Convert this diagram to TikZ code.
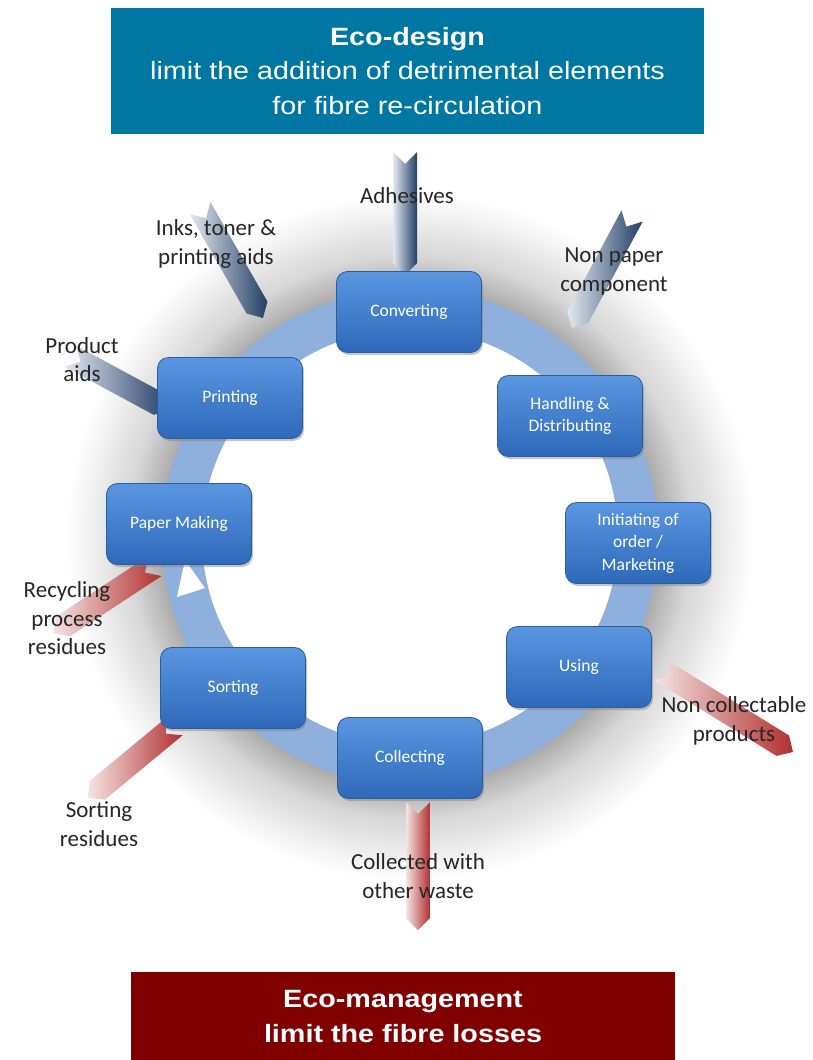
\documentclass[tikz,border=0pt]{standalone}
\usepackage{fontspec}
\setmainfont{Carlito}
\newfontfamily\titlefont[FakeStretch=1.15]{Liberation Sans}
\usetikzlibrary{shadows}
\definecolor{ecoblue}{HTML}{0077A3}
\definecolor{ecored}{HTML}{800000}
\definecolor{ringblue}{HTML}{8FB0DC}
\definecolor{boxtop}{HTML}{5A96E0}
\definecolor{boxbot}{HTML}{2E69B9}
\definecolor{boxedge}{HTML}{2A5C9E}
\definecolor{labelgray}{HTML}{262626}
\definecolor{navy}{HTML}{233E66}
\definecolor{navylight}{HTML}{E4E9F0}
\definecolor{darkred}{HTML}{B0302F}
\definecolor{pinklight}{HTML}{F6E4E4}
\pgfdeclareradialshading{halo}{\pgfpointorigin}{color(0bp)=(white); color(15.1bp)=(white); color(15.5bp)=(black!36); color(18bp)=(black!16); color(22bp)=(white); color(50bp)=(white)}
\newcommand{\chev}[7]{%
  \pgfmathsetmacro{\cdx}{#4-#2}\pgfmathsetmacro{\cdy}{#5-#3}%
  \pgfmathsetmacro{\cang}{atan2(\cdy,\cdx)}\pgfmathsetmacro{\clen}{veclen(\cdx,\cdy)}%
  \coordinate (#1-tail) at (#2,#3);
  \coordinate (#1-tip) at (#4,#5);
  \begin{scope}[shift={(#1-tail)},rotate=\cang]
    \shade[left color=#6,right color=#7] (0,-12) -- (\clen-12,-12) -- (\clen,0) -- (\clen-12,12) -- (0,12) -- (12,0) -- cycle;
  \end{scope}}
\tikzset{
  stage/.style={rectangle, rounded corners=11pt, minimum width=145pt, minimum height=81pt,
    top color=boxtop, bottom color=boxbot, draw=boxedge, line width=0.8pt, text=white,
    font=\fontsize{17.5}{22.5}\selectfont, align=center, inner sep=2pt,
    drop shadow={shadow xshift=1.5pt, shadow yshift=-2.5pt, opacity=0.45}},
  lbl/.style={font=\fontsize{23}{28.5}\selectfont, text=labelgray, align=center, inner sep=0pt},
  titlebox/.style={inner sep=0pt, text=white, align=center, font=\titlefont\fontsize{25}{34.5}\selectfont}
}
\begin{document}
\begin{tikzpicture}[x=1pt,y=1pt]
\useasboundingbox (0,0) rectangle (812,-1060);
% halo shadow
\shade[shading=halo] (410,-537) circle (390);
% ring
\coordinate (ringc) at (410,-537);
\draw[ringblue, line width=40pt] (ringc) circle (228);
\fill[white] (185,-560) -- (177,-597) -- (205,-588) -- cycle;
% block arrows
\chev{adh}{405}{-152}{405}{-275}{navylight}{navy}
\chev{ink}{200}{-208}{263}{-318}{navylight}{navy}
\chev{npc}{632}{-216}{572}{-328}{navylight}{navy}
\chev{prod}{70}{-356}{170}{-410}{navylight}{navy}
\chev{rec}{155}{-566}{53}{-633}{pinklight}{darkred}
\chev{sor}{175}{-726}{88}{-798}{pinklight}{darkred}
\chev{col}{418}{-802}{418}{-930}{pinklight}{darkred}
\chev{nco}{660}{-670}{793}{-752}{pinklight}{darkred}
% stages
\node[stage] (conv) at (409,-312) {Converting};
\node[stage] (hand) at (570,-416) {Handling \&\\Distributing};
\node[stage] (init) at (638,-543) {Initiating of\\order /\\Marketing};
\node[stage] (using) at (579,-667) {Using};
\node[stage] (coll) at (410,-758) {Collecting};
\node[stage] (sort) at (233,-688) {Sorting};
\node[stage] (pm) at (179,-524) {Paper Making};
\node[stage] (print) at (230,-398) {Printing};
% labels
\node[lbl] (ladh) at (407,-196) {Adhesives};
\node[lbl] (link) at (216,-244) {Inks, toner \&\\printing aids};
\node[lbl] (lnpc) at (614,-271.5) {Non paper\\component};
\node[lbl] (lprod) at (82,-359.5) {Product\\aids};
\node[lbl] (lrec) at (67,-618.5) {Recycling\\process\\residues};
\node[lbl] (lsor) at (99,-824) {Sorting\\residues};
\node[lbl] (lcol) at (418,-876) {Collected with\\other waste};
\node[lbl] (lnco) at (734,-721) {Non collectable\\products};
% title boxes
\node[titlebox, fill=ecoblue, minimum width=593pt, minimum height=126pt] (design) at (407.5,-71)
  {\textbf{Eco-design}\\limit the addition of detrimental elements\\for fibre re-circulation};
\node[titlebox, fill=ecored, minimum width=544pt, minimum height=89pt] (manage) at (403,-1016.5)
  {\textbf{Eco-management}\\\textbf{limit the fibre losses}};
\end{tikzpicture}
\end{document}
